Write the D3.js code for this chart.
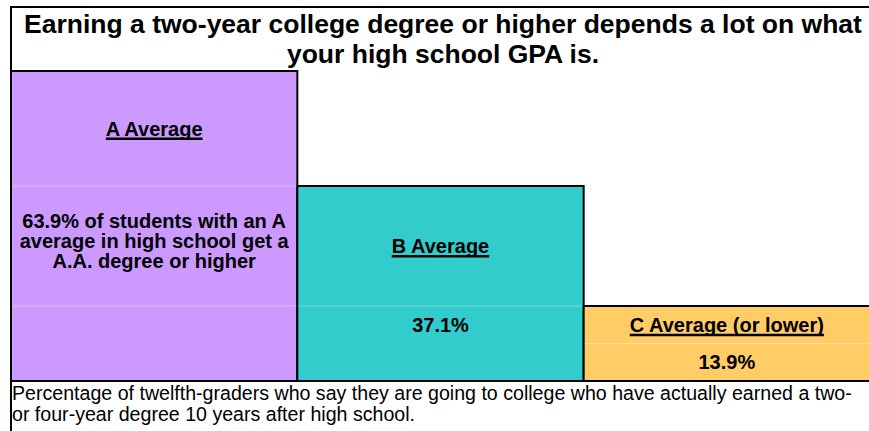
<!DOCTYPE html>
<html>
<head>
<meta charset="utf-8">
<script src="https://cdn.jsdelivr.net/npm/d3@7"></script>
<style>
    body { margin: 0; background: #fff; }
    svg { display: block; font-family: 'Liberation Sans', Arial, sans-serif; }
</style>
</head>
<body>
<section></section>
<script>

// data

const categories = ['A Average', 'B Average', 'C Average (or lower)'];
const values = [63.9, 37.1, 13.9];
const valueLines = [
    ['63.9% of students with an A', 'average in high school get a', 'A.A. degree or higher'],
    ['37.1%'],
    ['13.9%']
];
const titleLines = ['Earning a two-year college degree or higher depends a lot on what', 'your high school GPA is.'];
const captionLines = ['Percentage of twelfth-graders who say they are going to college who have actually earned a two-', 'or four-year degree 10 years after high school.'];
const colors = ['#cc99ff', '#33cccc', '#ffcc66'];


const w = 869;
const h = 431;
const left = 11;
const frameTop = 7;
const base = 381;

const svg = d3.select('section').append('svg').attr('width', w).attr('height', h);

svg.append('rect').attr('width', w).attr('height', h).attr('fill', '#fff');


// scales

const xScale = d3.scaleBand().domain(categories).range([left, 870]);

// the sheet rows are not to scale, so the y scale is piecewise
const yScale = d3.scaleLinear().domain([0, 13.9, 37.1, 63.9]).range([base, 306, 186, 71]);


// row edges: each bar top, the middle of the last bar, the base

const edges = values.map(v => yScale(v));
edges.push((yScale(values[values.length - 1]) + yScale(0)) / 2);
edges.push(yScale(0));


// title

svg.append('line').attr('x1', left - 1).attr('x2', w).attr('y1', frameTop).attr('y2', frameTop)
    .attr('stroke', '#000').attr('stroke-width', 2);

svg.append('line').attr('x1', left).attr('x2', left).attr('y1', frameTop - 1).attr('y2', h)
    .attr('stroke', '#000').attr('stroke-width', 2);

svg.selectAll('.title').data(titleLines).enter().append('text').attr('class', 'title')
    .attr('x', 443)
    .attr('y', (d, i) => 33 + i * 30)
    .attr('text-anchor', 'middle')
    .attr('font-size', 26.5)
    .attr('font-weight', 'bold')
    .attr('fill', '#000')
    .text(d => d);


// bars

svg.selectAll('.bar').data(values).enter().append('rect').attr('class', 'bar')
    .attr('x', (d, i) => xScale(categories[i]))
    .attr('y', d => yScale(d))
    .attr('width', xScale.bandwidth())
    .attr('height', d => yScale(0) - yScale(d))
    .attr('fill', (d, i) => colors[i])
    .attr('stroke', '#000')
    .attr('stroke-width', 2);


// faint sheet gridlines inside the bars

values.forEach((v, i) => {
    const x0 = xScale(categories[i]) + 1;
    const x1 = x0 + xScale.bandwidth() - 2;
    const rows = edges.slice(i + 1, values.length).concat(i == values.length - 1 ? [edges[values.length]] : []);
    rows.forEach(y => {
        svg.append('line').attr('x1', x0).attr('x2', x1).attr('y1', y).attr('y2', y)
            .attr('stroke', '#fff').attr('stroke-opacity', 0.35).attr('stroke-width', 1);
    });
});


// labels

const fs = 20;

categories.forEach((c, i) => {
    const cx = xScale(c) + xScale.bandwidth() / 2;

    // name, centred in its own row
    const nameY = (edges[i] + edges[i + 1]) / 2 + 7;
    const name = svg.append('text')
        .attr('x', cx).attr('y', nameY)
        .attr('text-anchor', 'middle')
        .attr('font-size', fs).attr('font-weight', 'bold').attr('fill', '#000')
        .text(c);

    const tw = name.node().getComputedTextLength();
    svg.append('line')
        .attr('x1', cx - tw / 2).attr('x2', cx + tw / 2)
        .attr('y1', nameY + 3.2).attr('y2', nameY + 3.2)
        .attr('stroke', '#000').attr('stroke-width', 2.4);

    // value, centred in the next row
    const lines = valueLines[i];
    const n = lines.length;
    const vc = (edges[i + 1] + edges[i + 2]) / 2;

    svg.selectAll('.val' + i).data(lines).enter().append('text').attr('class', 'val' + i)
        .attr('x', cx)
        .attr('y', (d, j) => vc + 7 + (j - (n - 1) / 2) * 20 - (n - 1) * 2.5)
        .attr('text-anchor', 'middle')
        .attr('font-size', fs).attr('font-weight', 'bold').attr('fill', '#000')
        .text(d => d);
});


// bottom rule

svg.append('line').attr('x1', left - 1).attr('x2', w).attr('y1', base).attr('y2', base)
    .attr('stroke', '#000').attr('stroke-width', 2);


// caption

svg.selectAll('.caption').data(captionLines).enter().append('text').attr('class', 'caption')
    .attr('x', 12)
    .attr('y', (d, i) => 400 + i * 21)
    .attr('font-size', 19.6)
    .attr('fill', '#000')
    .text(d => d);

</script>
</body>
</html>
